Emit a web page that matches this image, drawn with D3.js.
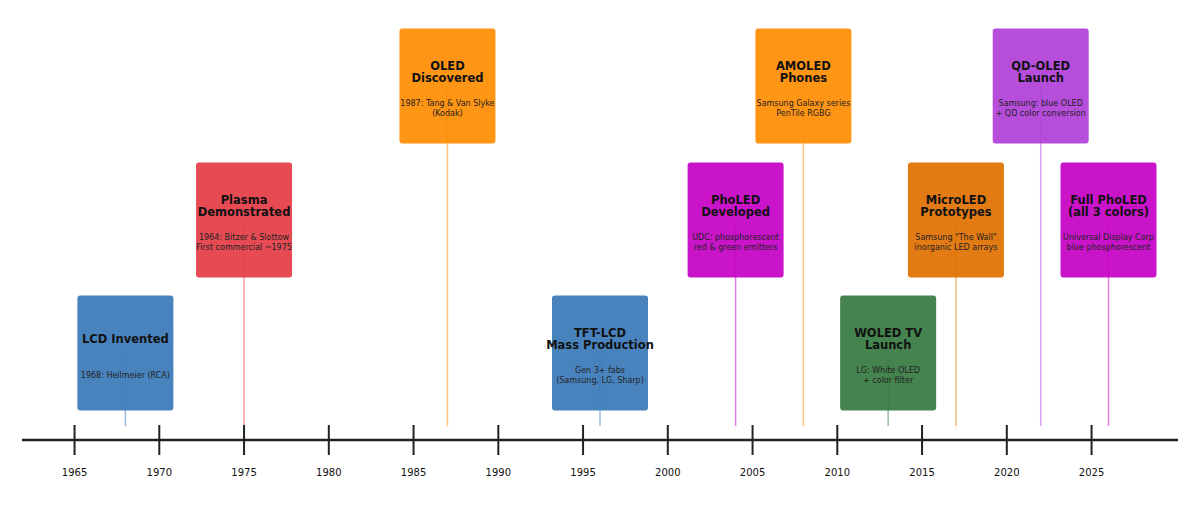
<!DOCTYPE html><html><head><meta charset="utf-8"><script src="https://cdn.jsdelivr.net/npm/d3@7"></script>
<style>body{margin:0;background:#fff}text{font-family:"DejaVu Sans",sans-serif}</style></head><body><svg id="c" width="1200" height="514"></svg>
<script>
const years=[1968,1975,1987,1996,2004,2008,2013,2017,2022,2026];
const titles=[["LCD Invented"],["Plasma","Demonstrated"],["OLED","Discovered"],["TFT-LCD","Mass Production"],["PhoLED","Developed"],["AMOLED","Phones"],["WOLED TV","Launch"],["MicroLED","Prototypes"],["QD-OLED","Launch"],["Full PhoLED","(all 3 colors)"]];
const descs=[["1968: Heilmeier (RCA)"],["1964: Bitzer & Slottow","First commercial ~1975"],["1987: Tang & Van Slyke","(Kodak)"],["Gen 3+ fabs","(Samsung, LG, Sharp)"],["UDC: phosphorescent","red & green emitters"],["Samsung Galaxy series","PenTile RGBG"],["LG: White OLED","+ color filter"],["Samsung \"The Wall\"","inorganic LED arrays"],["Samsung: blue OLED","+ QD color conversion"],["Universal Display Corp","blue phosphorescent"]];
const levels=[0,1,2,0,1,2,0,1,2,1];
const colors=["#3a78b9","#e43c45","#ff8c00","#3a78b9","#c400c4","#ff8c00","#367a40","#e07000","#b03fd8","#c400c4"];
const tickYears=d3.range(1965,2026,5);
const svg=d3.select("#c");
const x=d3.scaleLinear().domain([1961.9,2030.1]).range([22,1178]);
const ly=d3.scaleOrdinal().domain([0,1,2]).range([353,220,86]);
const axisY=440, bw=96, bh=115;
const g=svg.append("g");
years.forEach((yr,i)=>{
  const cx=x(yr), cy=ly(levels[i]);
  g.append("line").attr("x1",cx).attr("x2",cx).attr("y1",cy).attr("y2",426).attr("stroke",colors[i]).attr("stroke-opacity",0.5).attr("stroke-width",1.5);
  g.append("rect").attr("x",cx-bw/2).attr("y",cy-bh/2).attr("width",bw).attr("height",bh).attr("rx",3).attr("fill",colors[i]).attr("fill-opacity",0.92);
  const t=titles[i], tc=cy-14;
  t.forEach((s,j)=>g.append("text").attr("x",cx).attr("y",tc+(j-(t.length-1)/2)*12.5).attr("dy","0.35em").attr("text-anchor","middle").attr("font-size",11.5).attr("font-weight","bold").attr("fill","#111").text(s));
  const d=descs[i], dc=cy+22;
  d.forEach((s,j)=>g.append("text").attr("x",cx).attr("y",dc+(j-(d.length-1)/2)*9.5).attr("dy","0.35em").attr("text-anchor","middle").attr("font-size",8).attr("fill","#222").text(s));
});
svg.append("line").attr("x1",22).attr("x2",1178).attr("y1",axisY).attr("y2",axisY).attr("stroke","#222").attr("stroke-width",2.5);
const ax=svg.append("g");
tickYears.forEach(yr=>{
  ax.append("line").attr("x1",x(yr)).attr("x2",x(yr)).attr("y1",425).attr("y2",455).attr("stroke","#222").attr("stroke-width",2);
  ax.append("text").attr("x",x(yr)).attr("y",472).attr("dy","0.35em").attr("text-anchor","middle").attr("font-size",10).attr("fill","#111").text(yr);
});
</script></body></html>
